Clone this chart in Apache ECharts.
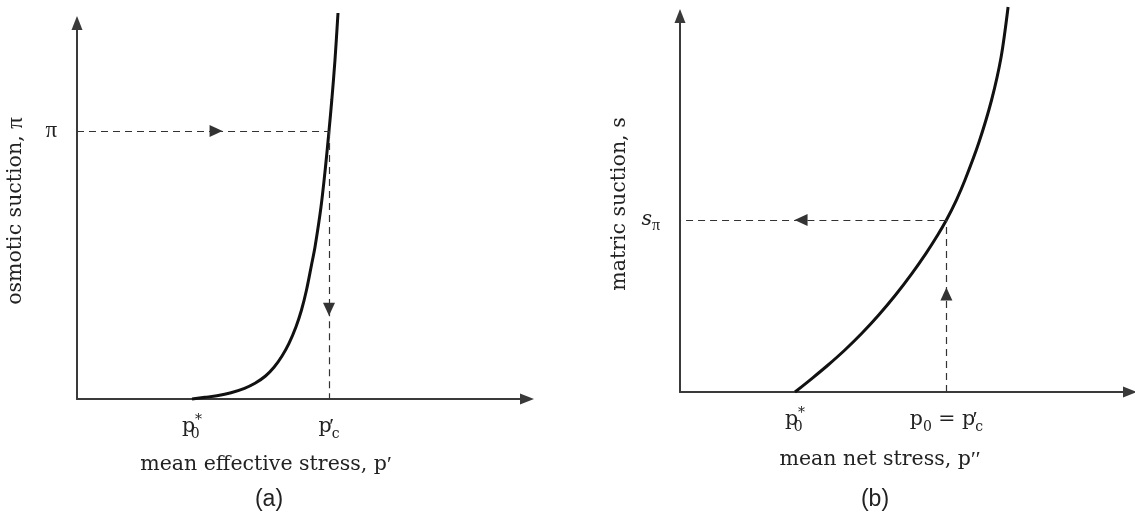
<!DOCTYPE html>
<html>
<head>
<meta charset="utf-8">
<script src="https://cdn.jsdelivr.net/npm/echarts@6/dist/echarts.min.js"></script>
<style>
html, body { margin: 0; background: #fff; }
#main { width: 1135px; height: 519px; }
</style>
</head>
<body>
<div id="main"></div>
<script>
// (a) osmotic suction vs mean effective stress
var curveAX = [25.56, 28.44, 31.11, 34.22, 37.22, 39.56, 41.89, 43.78, 45.56, 47.11, 48.67,
    49.89, 51.0, 52.11, 52.89, 54.22, 55.22, 56.0, 56.62, 57.33, 58.0];
var curveAY = [0, 0.45, 0.88, 1.68, 2.85, 4.18, 6.12, 8.43, 11.44, 14.81, 19.23,
    23.67, 28.99, 35.64, 40.43, 51.06, 61.70, 71.28, 79.52, 90.16, 102.66];
var p0A = 25.56;       // p0*
var pcA = 56.0;        // p'c
var piA = 71.28;       // pi
var arrowAX = 30.9;    // arrow on the horizontal dashed line
var arrowAY = 23.9;    // arrow on the vertical dashed line

// (b) matric suction vs mean net stress
var curveBX = [25.56, 29.36, 32.91, 36.64, 40.42, 44.16, 47.89, 51.56, 54.67, 57.27, 59.2,
    61.42, 63.33, 66.38, 69.24, 71.36, 72.91];
var curveBY = [0, 3.64, 7.18, 11.17, 15.61, 20.48, 25.80, 31.57, 36.89, 41.76, 45.74,
    51.06, 56.38, 66.22, 77.66, 89.10, 102.39];
var p0B = 25.56;
var pcB = 59.2;        // p0 = p'c
var sB = 45.74;        // s_pi
var arrowBX = 26.9;
var arrowBY = 26.06;

var labelsAX = ['{p|p}{s0|0}{st|*}', '{p|p}{pr|′}{sc|c}'];
var labelsAY = ['{g|π}'];
var labelsBX = ['{p|p}{s0|0}{st|*}', '{p|p}{sb|0}{p| = p}{pr|′}{sc|c}'];
var labelsBY = ['{it|s}{sp|π}'];

var serif = 'DejaVu Serif';
var greek = 'Liberation Serif';
var fs = 20.5;
var ink = '#222';
var axisColor = '#3a3a3a';

var rich = {
    p: { fontSize: fs, fontFamily: serif, color: ink, lineHeight: 28 },
    g: { fontSize: 23, fontFamily: greek, color: ink, lineHeight: 28 },
    it: { fontSize: fs, fontFamily: serif, fontStyle: 'italic', color: ink, lineHeight: 28 },
    s0: { fontSize: 14, fontFamily: serif, color: ink, width: 0, verticalAlign: 'bottom', lineHeight: 16 },
    sb: { fontSize: 14, fontFamily: serif, color: ink, verticalAlign: 'bottom', lineHeight: 16 },
    st: { fontSize: 14, fontFamily: serif, color: ink, verticalAlign: 'top', lineHeight: 16 },
    pr: { fontSize: 22, fontFamily: greek, color: ink, width: 0, lineHeight: 28 },
    sc: { fontSize: 14, fontFamily: serif, color: ink, verticalAlign: 'bottom', lineHeight: 16 },
    sp: { fontSize: 16, fontFamily: greek, color: ink, verticalAlign: 'bottom', lineHeight: 14 }
};
var nameRich = {
    g: { fontSize: 23, fontFamily: greek, color: ink },
    q: { fontSize: 22, fontFamily: greek, color: ink }
};

function pairs(xs, ys) {
    var out = [];
    for (var i = 0; i < xs.length; i++) out.push([xs[i], ys[i]]);
    return out;
}

function xAxisOf(grid, name, ticks, labels, pad, gap) {
    return {
        gridIndex: grid, type: 'value', min: 0, max: 100,
        name: name, nameLocation: 'middle', nameGap: gap,
        nameTextStyle: { fontSize: fs, fontFamily: serif, color: ink, padding: pad, rich: nameRich },
        axisLine: { lineStyle: { color: axisColor, width: 2 }, symbol: ['none', 'triangle'], symbolSize: [11, 14] },
        axisTick: { show: false },
        splitLine: { show: false },
        axisLabel: {
            customValues: ticks, margin: 14, rich: rich,
            formatter: function (v) { return labels[ticks.indexOf(v)] || ''; }
        }
    };
}

function yAxisOf(grid, name, ticks, labels, gap) {
    return {
        gridIndex: grid, type: 'value', min: 0, max: 100,
        name: name, nameLocation: 'middle', nameGap: gap,
        nameTextStyle: { fontSize: fs, fontFamily: serif, color: ink, rich: nameRich },
        axisLine: { lineStyle: { color: axisColor, width: 2 }, symbol: ['none', 'triangle'], symbolSize: [11, 14] },
        axisTick: { show: false },
        splitLine: { show: false },
        axisLabel: {
            customValues: ticks, margin: 20, rich: rich, fontSize: fs, fontFamily: serif, color: ink,
            formatter: function (v) { return labels[ticks.indexOf(v)] || ''; }
        }
    };
}

var dash = { color: '#333', width: 1.2, type: [7, 5] };

function guides(xi, yi, segs) {
    return {
        type: 'line', xAxisIndex: xi, yAxisIndex: yi, data: [], silent: true,
        markLine: { silent: true, animation: false, label: { show: false }, symbolSize: [12, 13], lineStyle: dash, data: segs }
    };
}

var myChart = echarts.init(document.getElementById('main'));
var option = {
    animation: false,
    grid: [
        { left: 77, top: 23, width: 450, height: 376 },
        { left: 680, top: 16, width: 450, height: 376 }
    ],
    xAxis: [
        xAxisOf(0, 'mean effective stress, p{q|′}', [p0A, pcA], labelsAX, [0, 72, 0, 0], 55),
        xAxisOf(1, 'mean net stress, p{q|′′}', [p0B, pcB], labelsBX, [0, 50, 0, 0], 57)
    ],
    yAxis: [
        yAxisOf(0, 'osmotic suction, {g|π}', [piA], labelsAY, 50),
        yAxisOf(1, 'matric suction, s', [sB], labelsBY, 50)
    ],
    graphic: [
        { type: 'text', x: 269, y: 500, style: { text: '(a)', font: '23px "Liberation Sans"', fill: ink, align: 'center', verticalAlign: 'middle' } },
        { type: 'text', x: 875, y: 500, style: { text: '(b)', font: '23px "Liberation Sans"', fill: ink, align: 'center', verticalAlign: 'middle' } }
    ],
    series: [
        {
            type: 'line', xAxisIndex: 0, yAxisIndex: 0, smooth: 0.3, showSymbol: false, clip: false,
            lineStyle: { color: '#111', width: 3 }, data: pairs(curveAX, curveAY)
        },
        guides(0, 0, [
            [{ coord: [0, piA], symbol: 'none' }, { coord: [arrowAX, piA], symbol: 'triangle' }],
            [{ coord: [arrowAX, piA], symbol: 'none' }, { coord: [pcA, piA], symbol: 'none' }],
            [{ coord: [pcA, piA], symbol: 'none' }, { coord: [pcA, arrowAY], symbol: 'triangle' }],
            [{ coord: [pcA, arrowAY], symbol: 'none' }, { coord: [pcA, 0], symbol: 'none' }]
        ]),
        {
            type: 'line', xAxisIndex: 1, yAxisIndex: 1, smooth: 0.3, showSymbol: false, clip: false,
            lineStyle: { color: '#111', width: 3 }, data: pairs(curveBX, curveBY)
        },
        guides(1, 1, [
            [{ coord: [pcB, sB], symbol: 'none' }, { coord: [arrowBX, sB], symbol: 'triangle' }],
            [{ coord: [arrowBX, sB], symbol: 'none' }, { coord: [0, sB], symbol: 'none' }],
            [{ coord: [pcB, 0], symbol: 'none' }, { coord: [pcB, arrowBY], symbol: 'triangle' }],
            [{ coord: [pcB, arrowBY], symbol: 'none' }, { coord: [pcB, sB], symbol: 'none' }]
        ])
    ]
};
myChart.setOption(option);
</script>
</body>
</html>
